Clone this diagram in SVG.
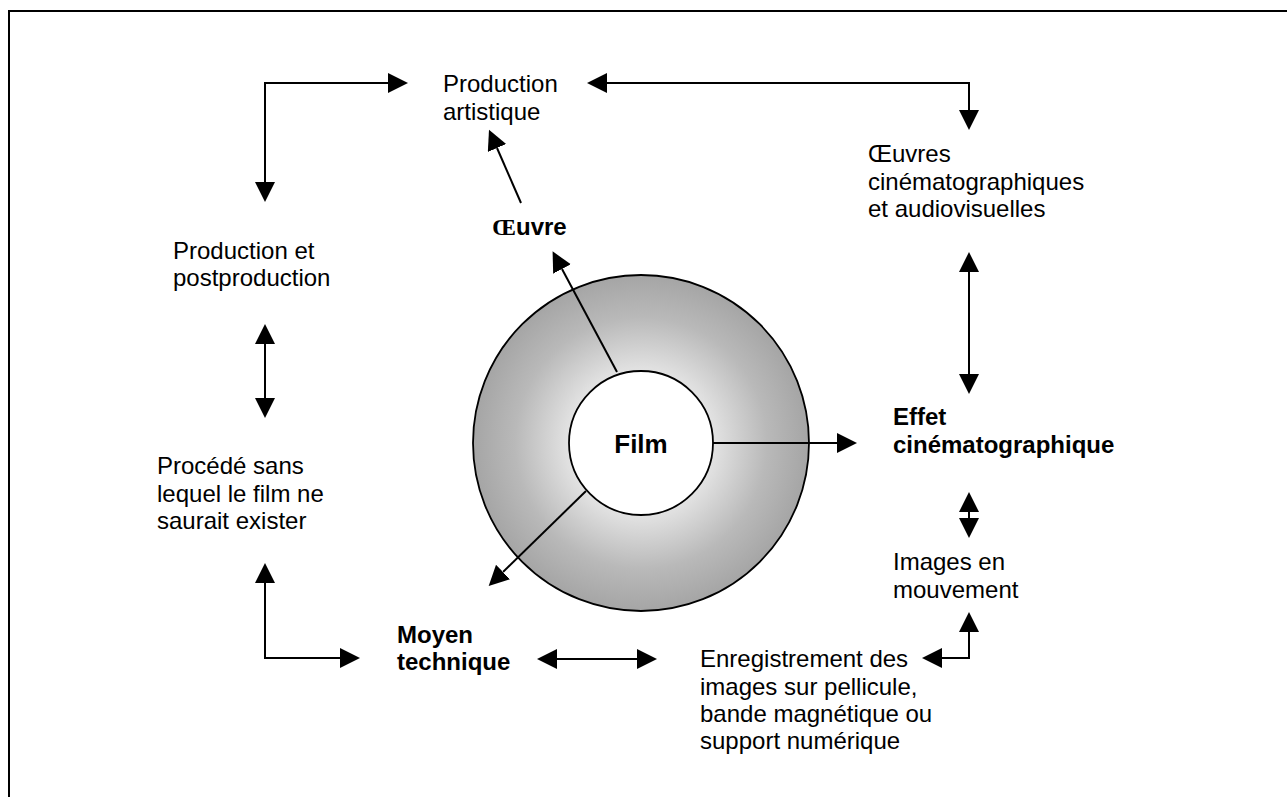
<svg xmlns="http://www.w3.org/2000/svg" width="1287" height="797" viewBox="0 0 1287 797">
<style>
.t{font-family:"Liberation Sans",Arial,sans-serif;font-size:24px;fill:#000}
.b{font-weight:bold}
.c{fill:none;stroke:#000;stroke-width:2;marker-end:url(#ah)}
.d{marker-start:url(#ah)}
</style>
<defs>
<marker id="ah" markerUnits="userSpaceOnUse" markerWidth="21" markerHeight="21" refX="0" refY="10" orient="auto-start-reverse" viewBox="0 0 21 21">
<path d="M0,0 L20,10 L0,20 Z" fill="#000"/>
</marker>
<radialGradient id="g" gradientUnits="userSpaceOnUse" cx="641" cy="443" r="168">
<stop offset="0" stop-color="#ffffff"/>
<stop offset="0.45" stop-color="#e0e0e0"/>
<stop offset="0.75" stop-color="#b9b9b9"/>
<stop offset="1" stop-color="#a5a5a5"/>
</radialGradient>
</defs>
<rect width="1287" height="797" fill="#fff"/>
<path d="M9,797 L9,11 L1287,11" fill="none" stroke="#000" stroke-width="2"/>

<g id="film">
<circle cx="641" cy="443" r="168" fill="url(#g)" stroke="#000" stroke-width="1.8"/>
<circle cx="641" cy="443" r="72" fill="#fff" stroke="#000" stroke-width="1.8"/>
<text class="t b" x="641" y="453" text-anchor="middle" style="font-size:26px">Film</text>
</g>

<g id="connectors">
<path class="c d" d="M265,182 L265,83 L388,83"/>
<path class="c d" d="M607,83 L969,83 L969,110"/>
<path class="c" d="M521,203 L497,148"/>
<path class="c d" d="M265,344 L265,398"/>
<path class="c d" d="M969,272 L969,374"/>
<path class="c d" d="M969,512 L969,518"/>
<path class="c" d="M617,372 L562,269"/>
<path class="c" d="M713,443 L837,443"/>
<path class="c" d="M586,491 L503,572"/>
<path class="c d" d="M265,583 L265,658 L340,658"/>
<path class="c d" d="M557,659 L637,659"/>
<path class="c d" d="M942,658 L969,658 L969,632"/>
</g>

<g id="production-artistique">
<text class="t" x="443" y="92">Production</text>
<text class="t" x="443" y="119.5">artistique</text>
</g>
<g id="oeuvre">
<text class="t b" x="492" y="235"><tspan style="font-family:'Liberation Serif',serif">Œ</tspan>uvre</text>
</g>
<g id="oeuvres-cinematographiques">
<text class="t" x="868" y="162">Œuvres</text>
<text class="t" x="868" y="189.5">cinématographiques</text>
<text class="t" x="868" y="217">et audiovisuelles</text>
</g>
<g id="production-postproduction">
<text class="t" x="173" y="258.5">Production et</text>
<text class="t" x="173" y="286">postproduction</text>
</g>
<g id="procede">
<text class="t" x="157" y="474">Procédé sans</text>
<text class="t" x="157" y="501.5">lequel le film ne</text>
<text class="t" x="157" y="529">saurait exister</text>
</g>
<g id="effet">
<text class="t b" x="893" y="425">Effet</text>
<text class="t b" x="893" y="453">cinématographique</text>
</g>
<g id="images">
<text class="t" x="893" y="570">Images en</text>
<text class="t" x="893" y="598">mouvement</text>
</g>
<g id="moyen">
<text class="t b" x="397" y="643">Moyen</text>
<text class="t b" x="397" y="670">technique</text>
</g>
<g id="enregistrement">
<text class="t" x="700" y="667">Enregistrement des</text>
<text class="t" x="700" y="694.5">images sur pellicule,</text>
<text class="t" x="700" y="722">bande magnétique ou</text>
<text class="t" x="700" y="749">support numérique</text>
</g>
</svg>
